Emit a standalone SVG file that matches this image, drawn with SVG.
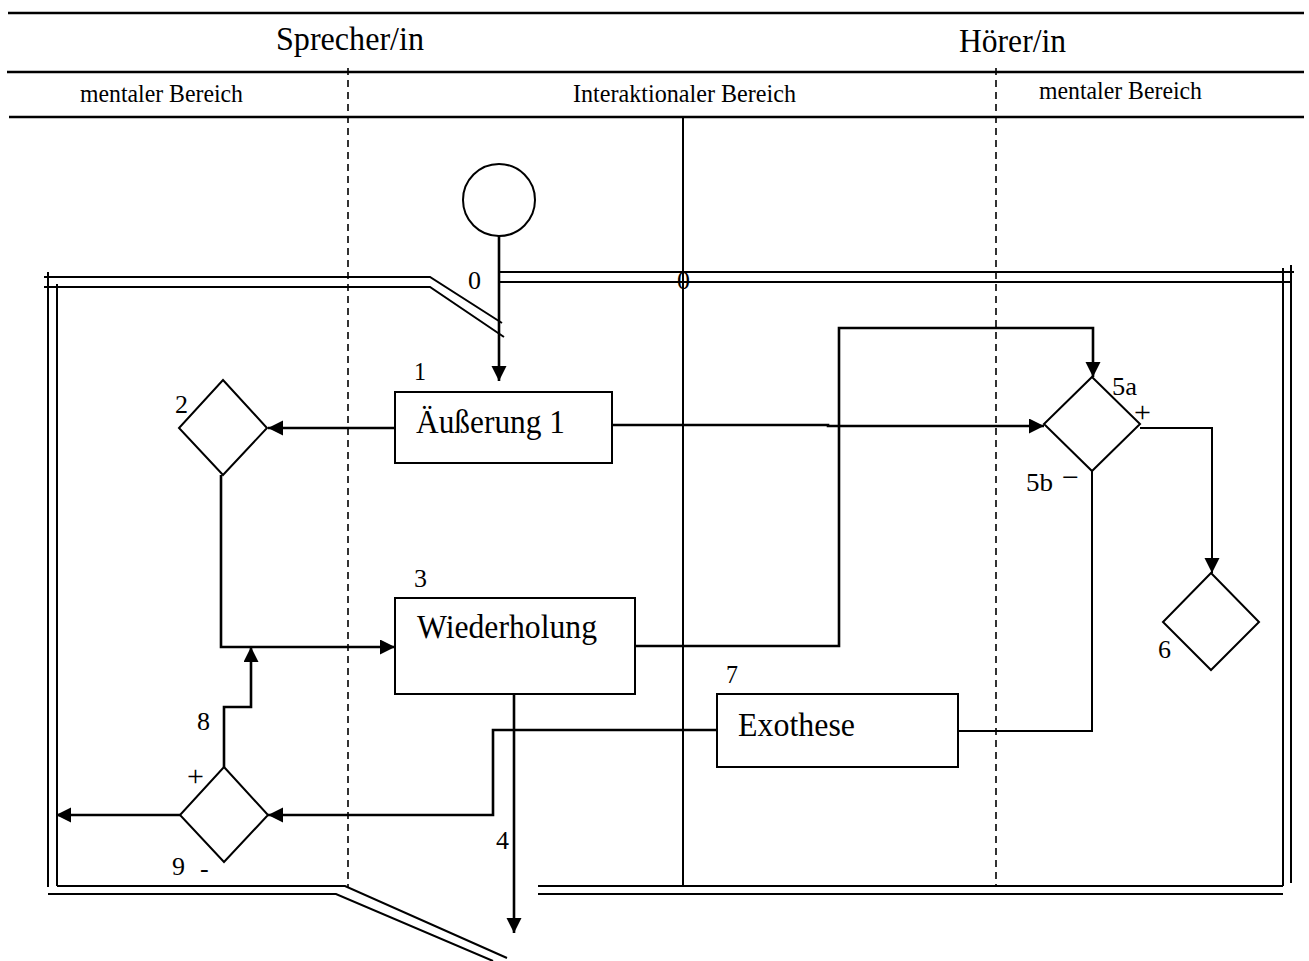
<svg xmlns="http://www.w3.org/2000/svg" width="1309" height="961" viewBox="0 0 1309 961">
<style>
text{font-family:"Liberation Serif","Times New Roman",serif;fill:#000}
.big{font-size:34px}
.small{font-size:25px}
.lbl{font-size:26px}
.sign{font-size:30px}
.hdr{stroke:#000;stroke-width:2.5;fill:none}
.frm{stroke:#000;stroke-width:2;fill:none}
.dash{stroke:#000;stroke-width:1.6;stroke-dasharray:7,5;fill:none}
.conn{stroke:#000;stroke-width:2.6;fill:none}
.thin{stroke:#000;stroke-width:2;fill:none}
.shape{stroke:#000;stroke-width:2;fill:#fff}
</style>
<defs>
<marker id="ah" markerUnits="userSpaceOnUse" markerWidth="17" markerHeight="17" refX="15" refY="7.5" orient="auto">
<path d="M0,0 L15,7.5 L0,15 z" fill="#000"/>
</marker>
</defs>

<g id="header">
<line class="hdr" x1="8" y1="13" x2="1304" y2="13"/>
<line class="hdr" x1="7" y1="72" x2="1304" y2="72"/>
<line class="hdr" x1="9" y1="117" x2="1304" y2="117"/>
<text class="big" x="276" y="50" textLength="148" lengthAdjust="spacingAndGlyphs">Sprecher/in</text>
<text class="big" x="959" y="52" textLength="107" lengthAdjust="spacingAndGlyphs">Hörer/in</text>
<text class="small" x="80" y="102" textLength="163" lengthAdjust="spacingAndGlyphs">mentaler Bereich</text>
<text class="small" x="573" y="102" textLength="223" lengthAdjust="spacingAndGlyphs">Interaktionaler Bereich</text>
<text class="small" x="1039" y="99" textLength="163" lengthAdjust="spacingAndGlyphs">mentaler Bereich</text>
</g>

<g id="dividers">
<line class="dash" x1="348" y1="68" x2="348" y2="888"/>
<line class="dash" x1="996" y1="68" x2="996" y2="886"/>
<line class="thin" x1="683" y1="117" x2="683" y2="886"/>
</g>

<g id="frame">
<path class="frm" d="M44,277 H430 L502,323"/>
<path class="frm" d="M44,287 H430 L504,337"/>
<line class="frm" x1="48" y1="272" x2="48" y2="887"/>
<line class="frm" x1="57" y1="284" x2="57" y2="886"/>
<path class="frm" d="M57,886 H345 L507,958"/>
<path class="frm" d="M48,894 H336 L493,961"/>
<line class="frm" x1="500" y1="272" x2="1294" y2="272"/>
<line class="frm" x1="500" y1="282" x2="1292" y2="282"/>
<line class="frm" x1="1291" y1="265" x2="1291" y2="883"/>
<line class="frm" x1="1283" y1="268" x2="1283" y2="886"/>
<line class="frm" x1="538" y1="886" x2="1283" y2="886"/>
<line class="frm" x1="538" y1="894" x2="1283" y2="894"/>
<text class="lbl" x="468" y="289" textLength="13" lengthAdjust="spacingAndGlyphs">0</text>
<text class="lbl" x="677" y="289" textLength="13" lengthAdjust="spacingAndGlyphs">0</text>
</g>

<g id="connectors">
<path class="conn" d="M499,236 V381" marker-end="url(#ah)"/>
<path class="conn" d="M395,428 H268" marker-end="url(#ah)"/>
<path class="conn" d="M221,475 V647 H395" marker-end="url(#ah)"/>
<path class="conn" d="M612,425 H828 V426 H1044" marker-end="url(#ah)"/>
<path class="conn" d="M635,646 H839 V328 H1093 V377" marker-end="url(#ah)"/>
<path class="thin" d="M1140,428 H1212 V573" marker-end="url(#ah)"/>
<path class="thin" d="M1092,471 V731 H958"/>
<path class="conn" d="M717,730 H493 V815 H268" marker-end="url(#ah)"/>
<path class="conn" d="M180,815 H56" marker-end="url(#ah)"/>
<path class="conn" d="M224,767 V707 H251 V647" marker-end="url(#ah)"/>
<path class="conn" d="M514,694 V933" marker-end="url(#ah)"/>
</g>

<g id="start">
<circle class="shape" cx="499" cy="200" r="36"/>
</g>

<g id="n1">
<rect class="shape" x="395" y="392" width="217" height="71"/>
<text class="big" x="416" y="433" textLength="149" lengthAdjust="spacingAndGlyphs">Äußerung 1</text>
<text class="lbl" x="414" y="380" textLength="12" lengthAdjust="spacingAndGlyphs">1</text>
</g>

<g id="n2">
<polygon class="shape" points="223,380 267,428 223,475 179,428"/>
<text class="lbl" x="175" y="413" textLength="13" lengthAdjust="spacingAndGlyphs">2</text>
</g>

<g id="n3">
<rect class="shape" x="395" y="598" width="240" height="96"/>
<text class="big" x="417" y="638" textLength="180" lengthAdjust="spacingAndGlyphs">Wiederholung</text>
<text class="lbl" x="414" y="587" textLength="13" lengthAdjust="spacingAndGlyphs">3</text>
</g>

<g id="n4">
<text class="lbl" x="496" y="849" textLength="13" lengthAdjust="spacingAndGlyphs">4</text>
</g>

<g id="n5">
<polygon class="shape" points="1092,377 1140,424 1092,471 1044,424"/>
<text class="lbl" x="1112" y="395" textLength="25" lengthAdjust="spacingAndGlyphs">5a</text>
<text class="sign" x="1134" y="422">+</text>
<text class="lbl" x="1026" y="491" textLength="27" lengthAdjust="spacingAndGlyphs">5b</text>
<text class="sign" x="1062" y="487">−</text>
</g>

<g id="n6">
<polygon class="shape" points="1211,573 1259,622 1211,670 1163,622"/>
<text class="lbl" x="1158" y="658" textLength="13" lengthAdjust="spacingAndGlyphs">6</text>
</g>

<g id="n7">
<rect class="shape" x="717" y="694" width="241" height="73"/>
<text class="big" x="738" y="736" textLength="117" lengthAdjust="spacingAndGlyphs">Exothese</text>
<text class="lbl" x="726" y="683" textLength="12" lengthAdjust="spacingAndGlyphs">7</text>
</g>

<g id="n8">
<text class="lbl" x="197" y="730" textLength="13" lengthAdjust="spacingAndGlyphs">8</text>
</g>

<g id="n9">
<polygon class="shape" points="224,767 268,815 224,862 180,815"/>
<text class="sign" x="187" y="786">+</text>
<text class="lbl" x="172" y="875" textLength="13" lengthAdjust="spacingAndGlyphs">9</text>
<text class="lbl" x="200" y="877">-</text>
</g>
</svg>
